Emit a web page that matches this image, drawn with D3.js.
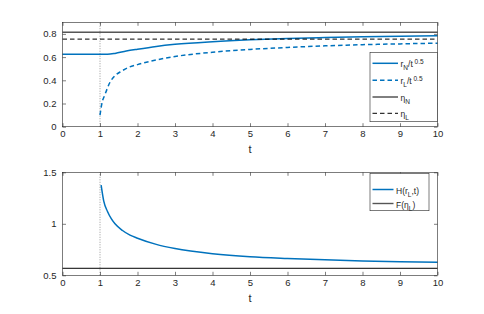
<!DOCTYPE html>
<html>
<head>
<meta charset="utf-8">
<script src="https://cdn.jsdelivr.net/npm/d3@7"></script>
<style>
  body { margin: 0; background: #fff; }
  text { font-family: "Liberation Sans", Arial, sans-serif; }
</style>
</head>
<body>
<div id="chart"></div>
<script>
// values
const tN = [0, 1.2, 1.4, 1.7, 2, 2.5, 3, 4, 5, 6, 7, 8, 9, 10];
const rN = [0.625, 0.625, 0.632, 0.652, 0.668, 0.692, 0.71, 0.733, 0.749, 0.76, 0.768, 0.775, 0.78, 0.784];

const tL = [1.0, 1.05, 1.13, 1.27, 1.4, 1.58, 1.75, 2, 2.5, 3, 4, 5, 6, 7, 8, 9, 10];
const rL = [0.1, 0.2, 0.275, 0.385, 0.44, 0.48, 0.51, 0.535, 0.575, 0.605, 0.642, 0.666, 0.683, 0.697, 0.707, 0.714, 0.72];

const etaN = 0.815;
const etaL = 0.755;

const tH = [1.03, 1.1, 1.2, 1.3, 1.4, 1.6, 1.8, 2, 2.5, 3, 4, 5, 6, 7, 8, 9, 10];
const H = [1.375, 1.22, 1.12, 1.05, 1.0, 0.935, 0.89, 0.86, 0.8, 0.76, 0.71, 0.68, 0.663, 0.65, 0.64, 0.632, 0.626];
const FetaL = 0.568;

const tStart = 1;
const xTicks = d3.range(0, 11);
const yTicksTop = [0, 0.2, 0.4, 0.6, 0.8];
const yTicksBottom = [0.5, 1, 1.5];

// Setup
const width = 484, height = 314;
const blue = "#0072BD";
const axisColor = "#262626";

const svg = d3.select("#chart").append("svg")
    .attr("width", width)
    .attr("height", height);

const x = d3.scaleLinear().domain([0, 10]).range([62.5, 437.5]);
const yTop = d3.scaleLinear().domain([0, 0.9]).range([126.7, 22.3]);
const yBot = d3.scaleLinear().domain([0.5, 1.5]).range([275.3, 172.3]);

const line = (xs, ys, sy) => d3.line()
    .x((d, i) => x(xs[i]))
    .y(d => sy(d))
    .curve(d3.curveMonotoneX)(ys);

function drawAxes(y, yTicks) {
  const [y0, y1] = y.range();
  const g = svg.append("g");
  const fmt = d3.format("~g");

  g.append("g").attr("transform", `translate(0,${y0})`)
    .call(d3.axisBottom(x).tickValues(xTicks).tickFormat(fmt).tickSizeInner(-3.5).tickSizeOuter(0).tickPadding(4));
  g.append("g").attr("transform", `translate(0,${y1})`)
    .call(d3.axisTop(x).tickValues(xTicks).tickFormat("").tickSizeInner(-3.5).tickSizeOuter(0));
  g.append("g").attr("transform", `translate(${x.range()[0]},0)`)
    .call(d3.axisLeft(y).tickValues(yTicks).tickFormat(fmt).tickSizeInner(-3.5).tickSizeOuter(0).tickPadding(6));
  g.append("g").attr("transform", `translate(${x.range()[1]},0)`)
    .call(d3.axisRight(y).tickValues(yTicks).tickFormat("").tickSizeInner(-3.5).tickSizeOuter(0));

  g.selectAll(".domain").remove();
  g.selectAll(".tick line").attr("stroke", axisColor).attr("stroke-width", 0.6);
  g.selectAll(".tick text")
    .attr("fill", axisColor)
    .style("font-size", "9.5px")
    .style("font-family", '"Liberation Sans", Arial, sans-serif');

  g.append("rect")
    .attr("x", x.range()[0]).attr("y", y1)
    .attr("width", x.range()[1] - x.range()[0]).attr("height", y0 - y1)
    .attr("fill", "none").attr("stroke", axisColor).attr("stroke-width", 0.6);

  svg.append("text")
    .attr("x", (x.range()[0] + x.range()[1]) / 2)
    .attr("y", y0 + 26.5)
    .attr("text-anchor", "middle")
    .attr("fill", axisColor)
    .style("font-size", "11px")
    .text("t");
}

// dotted marker at t = 1
function startMarker(y) {
  svg.append("line")
    .attr("x1", x(tStart)).attr("x2", x(tStart))
    .attr("y1", y.range()[0]).attr("y2", y.range()[1])
    .attr("stroke", "#555").attr("stroke-width", 0.6)
    .attr("stroke-dasharray", "1,1.5");
}

// legend rows: parts are [text, "sub"|"sup"|undefined]
function legend(x0, y0, w, h, lineLen, rowY, items) {
  const g = svg.append("g");
  g.append("rect")
    .attr("x", x0).attr("y", y0).attr("width", w).attr("height", h)
    .attr("fill", "#fff").attr("stroke", axisColor).attr("stroke-width", 0.6);
  items.forEach((it, i) => {
    const yy = rowY[i];
    g.append("line")
      .attr("x1", x0 + 2.5).attr("x2", x0 + 2.5 + lineLen)
      .attr("y1", yy).attr("y2", yy)
      .attr("stroke", it.color).attr("stroke-width", it.width)
      .attr("stroke-dasharray", it.dash || null);
    const t = g.append("text")
      .attr("x", x0 + lineLen + 5).attr("y", yy + 4)
      .attr("fill", axisColor)
      .style("font-size", "8.5px");
    let shift = 0;
    it.parts.forEach(([s, k]) => {
      const target = k === "sub" ? 3 : k === "sup" ? -3.8 : 0;
      t.append("tspan").text(s)
        .attr("dy", target - shift)
        .style("font-size", k ? "6.5px" : null);
      shift = target;
    });
  });
}

// top panel
startMarker(yTop);
svg.append("path").attr("d", line(tN, rN, yTop))
  .attr("fill", "none").attr("stroke", blue).attr("stroke-width", 1.5);
svg.append("path").attr("d", line(tL, rL, yTop))
  .attr("fill", "none").attr("stroke", blue).attr("stroke-width", 1.5)
  .attr("stroke-dasharray", "4.5,3");
svg.append("line")
  .attr("x1", x(0)).attr("x2", x(10)).attr("y1", yTop(etaN)).attr("y2", yTop(etaN))
  .attr("stroke", "#000").attr("stroke-width", 1);
svg.append("line")
  .attr("x1", x(0)).attr("x2", x(10)).attr("y1", yTop(etaL)).attr("y2", yTop(etaL))
  .attr("stroke", "#000").attr("stroke-width", 1).attr("stroke-dasharray", "4.5,3");
drawAxes(yTop, yTicksTop);

legend(370, 52.3, 67.5, 69.4, 25.5, [63.3, 80.3, 97, 113.3], [
  { color: blue, width: 1.5, parts: [["r"], ["N", "sub"], ["/t"], [" 0.5", "sup"]] },
  { color: blue, width: 1.5, dash: "4.5,3", parts: [["r"], ["L", "sub"], ["/t"], [" 0.5", "sup"]] },
  { color: "#000", width: 1, parts: [["η"], ["N", "sub"]] },
  { color: "#000", width: 1, dash: "4.5,3", parts: [["η"], ["L", "sub"]] }
]);

// bottom panel
startMarker(yBot);
svg.append("path").attr("d", line(tH, H, yBot))
  .attr("fill", "none").attr("stroke", blue).attr("stroke-width", 1.5);
svg.append("line")
  .attr("x1", x(0)).attr("x2", x(10)).attr("y1", yBot(FetaL)).attr("y2", yBot(FetaL))
  .attr("stroke", "#000").attr("stroke-width", 1);
drawAxes(yBot, yTicksBottom);

legend(370, 173.3, 59, 37.4, 21, [189.5, 203.5], [
  { color: blue, width: 1.5, parts: [["H(r"], ["L", "sub"], [",t)"]] },
  { color: "#555", width: 1.4, parts: [["F(η"], ["L", "sub"], [")"]] }
]);
</script>
</body>
</html>
